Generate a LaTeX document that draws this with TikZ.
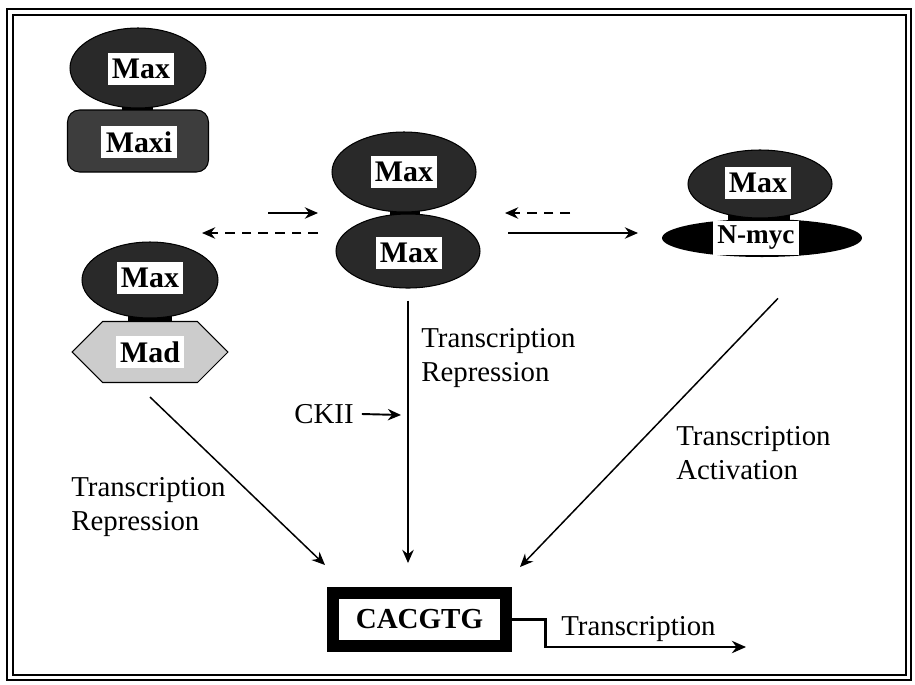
\documentclass[tikz,border=0pt]{standalone}
\usepackage{fontspec}
\setmainfont{Liberation Serif}
\usepackage{tikz}
\usetikzlibrary{calc, arrows.meta, shapes.geometric, shapes.symbols}
\tikzset{
	prot/.style={ellipse, fill=black!84, draw=black, line width=0.6pt, inner sep=0pt}
}
\tikzset{
	lbl/.style={fill=white, inner xsep=2.5pt, inner ysep=3.2pt, font=\bfseries\fontsize{17}{19}\selectfont}
}
\tikzset{
	arr/.style={-{Stealth[length=7.5pt,width=6.5pt]}, line width=0.85pt},
	darr/.style={arr, dash pattern=on 5.5pt off 4pt},
	txt/.style={font=\fontsize{16.4}{18.9}\selectfont, inner sep=0pt, align=left}
}

\begin{document}
\begin{tikzpicture}[x=0.02cm, y=-0.02cm]
      \useasboundingbox (0,0) rectangle (915,684);
      % double frame
      \draw[line width=1.6pt] (7,9) rectangle (911,680);
      \draw[line width=0.7pt] (13,15) rectangle (906,675);
      % necks between the partners
      \fill (122,100) rectangle (153,114);
      \fill (390,206) rectangle (420,224);
      \fill (728,212) rectangle (790,226);
      \fill (128,312) rectangle (172,326);
      % Max / Maxi
      \node[prot, minimum width=2.72cm, minimum height=1.6cm] (maxtl) at (138,68) {};
      \node[draw=black, fill=black!76, rounded corners=0.24cm, line width=0.6pt,
            minimum width=2.82cm, minimum height=1.24cm] (maxi) at (138,141) {};
      \node[lbl] (maxtllbl) at (141,69) {Max};
      \node[lbl] (maxilbl) at (139,142) {Maxi};
      % Max / Max
      \node[prot, minimum width=2.88cm, minimum height=1.6cm] (maxt) at (404,172) {};
      \node[prot, minimum width=2.88cm, minimum height=1.48cm] (maxb) at (408,251) {};
      \node[lbl] (maxtlbl) at (404,172) {Max};
      \node[lbl] (maxblbl) at (409,253) {Max};
      % Max / N-myc
      \node[prot, minimum width=2.88cm, minimum height=1.36cm] (maxr) at (760,184) {};
      \node[ellipse, fill=black, inner sep=0pt, minimum width=4.0cm, minimum height=0.76cm] (nmyc) at (762,238) {};
      \node[lbl] (maxrlbl) at (758,183) {Max};
      \node[lbl, font=\bfseries\fontsize{15.5}{18}\selectfont] (nmyclbl) at (756,238) {N-myc};
      % Max / Mad
      \node[prot, minimum width=2.72cm, minimum height=1.52cm] (maxl) at (150,280) {};
      \node[lbl] (maxllbl) at (150,278) {Max};
      \node[signal, signal to=west and east, signal pointer angle=90, draw=black, fill=black!20,
            line width=0.6pt, inner sep=0pt, minimum width=3.12cm, minimum height=1.22cm] (mad) at (150,352) {};
      \node[lbl] (madlbl) at (150,352) {Mad};
      % E-box
      \node[draw, line width=6.8pt, minimum width=3.45cm, minimum height=1.06cm,
            font=\bfseries\fontsize{16.5}{20}\selectfont] (cacgtg) at (419.5,619.5) {CACGTG};
      % equilibrium arrows
      \coordinate (fwdLa) at (268,213);
      \coordinate (fwdLb) at (318,213);
      \coordinate (bckLa) at (318,233);
      \coordinate (bckLb) at (202,233);
      \coordinate (bckRa) at (570,213);
      \coordinate (bckRb) at (505,213);
      \coordinate (fwdRa) at (508,233);
      \coordinate (fwdRb) at (638,233);
      \draw[arr] (fwdLa) -- (fwdLb);
      \draw[darr] (bckLa) -- (bckLb);
      \draw[darr] (bckRa) -- (bckRb);
      \draw[arr] (fwdRa) -- (fwdRb);
      % arrows onto the E-box
      \coordinate (madtip) at (325,565);
      \coordinate (acttip) at (520,567);
      \coordinate (ckiitip) at (401,415);
      \draw[arr, line width=1.1pt, shorten <=0.24cm, shorten >=0.48cm] (maxb.south) -- (maxb.south |- cacgtg.north);
      \draw[arr] ($(mad.south)+(0,14)$) -- (madtip);
      \draw[arr] ($(nmyc.south)+(16,41)$) -- (acttip);
      \node[txt] (ckii) at (324,414) {CKII};
      \draw[arr, line width=1.1pt] ($(ckii.east)+(8,0)$) -- (ckiitip);
      % labels
      \node[txt, anchor=west] (repc) at (421,358) {Transcription\\Repression};
      \node[txt, anchor=west] (repl) at (71,507) {Transcription\\Repression};
      \node[txt, anchor=west] (actr) at (676,453) {Transcription\\Activation};
      % transcription start
      \coordinate (txend) at (746,647);
      \draw[-{Stealth[length=8pt,width=7pt]}, line width=1.6pt] (cacgtg.east) -- ++(34,0) |- (txend);
      \node[txt, anchor=west] (tx) at (561,629) {Transcription};
    \end{tikzpicture}
\end{document}
